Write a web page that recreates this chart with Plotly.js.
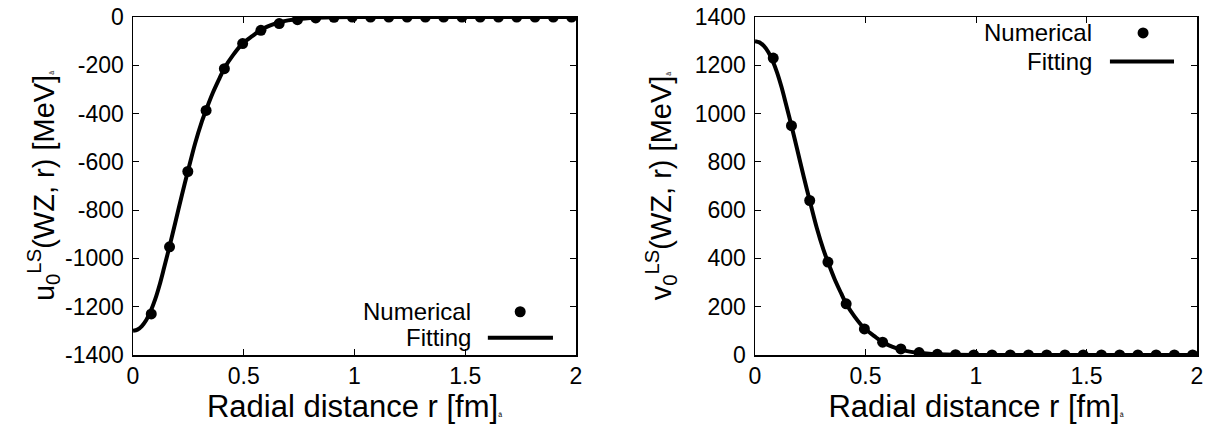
<!DOCTYPE html>
<html>
<head>
<meta charset="utf-8">
<script src="https://cdn.plot.ly/plotly-3.0.1.min.js"></script>
<style>html,body{margin:0;padding:0;background:#fff}#chart{width:1212px;height:424px}</style>
</head>
<body>
<div id="chart"></div>
<script>
// Numerical (lattice) points
const numR = [0.0825,0.165,0.2475,0.33,0.4125,0.495,0.5775,0.66,0.7425,0.825,0.9075,0.99,1.0725,1.155,1.2375,1.32,1.4025,1.485,1.5675,1.65,1.7325,1.815,1.8975,1.98];
const numU = [-1230,-952,-640,-387,-214,-110,-55,-27,-11,-4,-1,0,0,0,0,0,0,0,0,0,0,0,0,0];
const numV = [1230,950,640,385,212,108,53,25,10,3,1,0,0,0,0,0,0,0,0,0,0,0,0,0];

// Fitting curve
const fitR = [0,0.02,0.04,0.06,0.08,0.1,0.12,0.14,0.165,0.19,0.22,0.2475,0.28,0.31,0.33,0.36,0.39,0.4125,0.45,0.495,0.54,0.5775,0.62,0.66,0.7,0.75,0.8,0.9,1.0,1.5,2.0];
const fitU = [-1300,-1295,-1280,-1255,-1218,-1170,-1110,-1040,-950,-855,-740,-640,-525,-435,-385,-315,-255,-212,-160,-110,-78,-53,-35,-22,-14,-8,-4,-1,0,0,0];
const fitV = [1300,1295,1280,1255,1218,1170,1110,1040,950,855,740,640,525,435,385,315,255,212,160,110,78,53,35,22,14,8,4,1,0,0,0];

// Tick labels
const xTickVals = [0,0.5,1,1.5,2];
const xTickText = ['0','0.5','1','1.5','2'];
const uTickVals = [-1400,-1200,-1000,-800,-600,-400,-200,0];
const uTickText = ['-1400','-1200','-1000','-800','-600','-400','-200','0'];
const vTickVals = [0,200,400,600,800,1000,1200,1400];
const vTickText = ['0','200','400','600','800','1000','1200','1400'];
const legendLabels = ['Numerical','Fitting'];

const FONT = 'Liberation Sans, Arial, Helvetica, sans-serif';
const W = 1212, H = 424;
const lineStyle = {color:'#000', width:4, shape:'spline', smoothing:0.8};
const markerStyle = {color:'#000', size:11};

const traces = [
  {x:fitR, y:fitU, mode:'lines', line:lineStyle, xaxis:'x', yaxis:'y', hoverinfo:'skip'},
  {x:numR, y:numU, mode:'markers', marker:markerStyle, xaxis:'x', yaxis:'y'},
  {x:fitR, y:fitV, mode:'lines', line:lineStyle, xaxis:'x2', yaxis:'y2', hoverinfo:'skip'},
  {x:numR, y:numV, mode:'markers', marker:markerStyle, xaxis:'x2', yaxis:'y2'}
];

function xax(domain, anchor){
  return {
    domain: domain, anchor: anchor, range:[0,2],
    tickvals: xTickVals, ticktext: xTickText,
    ticks:'inside', ticklen:6, tickwidth:1, tickcolor:'#000',
    showline:true, linecolor:'#000', linewidth:1.5, mirror:'ticks',
    showgrid:false, zeroline:false,
    tickfont:{family:FONT, size:23, color:'#000'},
    ticklabelstandoff: 0,
    title:{text:'Radial distance r [fm]<span style="font-size:7px">â</span>', font:{family:FONT, size:31, color:'#000'}, standoff:0},
    automargin:false
  };
}
function yax(domain, anchor, range, tv, tt, title, standoff){
  return {
    domain: domain, anchor: anchor, range: range,
    tickvals: tv, ticktext: tt,
    ticks:'inside', ticklen:6, tickwidth:1, tickcolor:'#000',
    showline:true, linecolor:'#000', linewidth:1.5, mirror:'ticks',
    showgrid:false, zeroline:false,
    tickfont:{family:FONT, size:23, color:'#000'},
    ticklabelstandoff: 3,
    title:{text:title, font:{family:FONT, size:29, color:'#000'}, standoff:standoff},
    automargin:false
  };
}

const yDom = [1-355/H, 1-17/H];
const layout = {
  width: W, height: H,
  margin:{l:0,r:0,t:0,b:0},
  paper_bgcolor:'#fff', plot_bgcolor:'#fff',
  showlegend:false,
  xaxis: xax([133/W, 576/W], 'y'),
  yaxis: yax(yDom, 'x', [-1400,0], uTickVals, uTickText, 'u<sub>0</sub><sup>LS</sup>(WZ, r) [MeV]<span style="font-size:7px">â</span>', 2),
  xaxis2: xax([755/W, 1197/W], 'y2'),
  yaxis2: yax(yDom, 'x2', [0,1400], vTickVals, vTickText, 'v<sub>0</sub><sup>LS</sup>(WZ, r) [MeV]<span style="font-size:7px">â</span>', 14),
  annotations: [],
  shapes: []
};

function addLegend(xr, yr, textX, y1, y2, mx, l0, l1){
  layout.annotations.push(
    {xref:xr, yref:yr, x:textX, y:y1, text:legendLabels[0], showarrow:false, xanchor:'right', yanchor:'middle', borderpad:0, font:{family:FONT, size:24, color:'#000'}},
    {xref:xr, yref:yr, x:textX, y:y2, text:legendLabels[1], showarrow:false, xanchor:'right', yanchor:'middle', borderpad:0, font:{family:FONT, size:24, color:'#000'}}
  );
  layout.shapes.push(
    {type:'circle', xref:xr, yref:yr, xsizemode:'pixel', ysizemode:'pixel', xanchor:mx, yanchor:y1, x0:-5.5, x1:5.5, y0:-5.5, y1:5.5, fillcolor:'#000', line:{width:0}},
    {type:'line', xref:xr, yref:yr, x0:l0, x1:l1, y0:y2, y1:y2, line:{color:'#000', width:4}}
  );
}
addLegend('x domain','y domain', 0.765, 0.128, 0.051, 0.874, 0.801, 0.948);
addLegend('x2 domain','y2 domain', 0.765, 0.953, 0.868, 0.878, 0.803, 0.948);

Plotly.newPlot('chart', traces, layout, {staticPlot:true, displayModeBar:false});
</script>
</body>
</html>
